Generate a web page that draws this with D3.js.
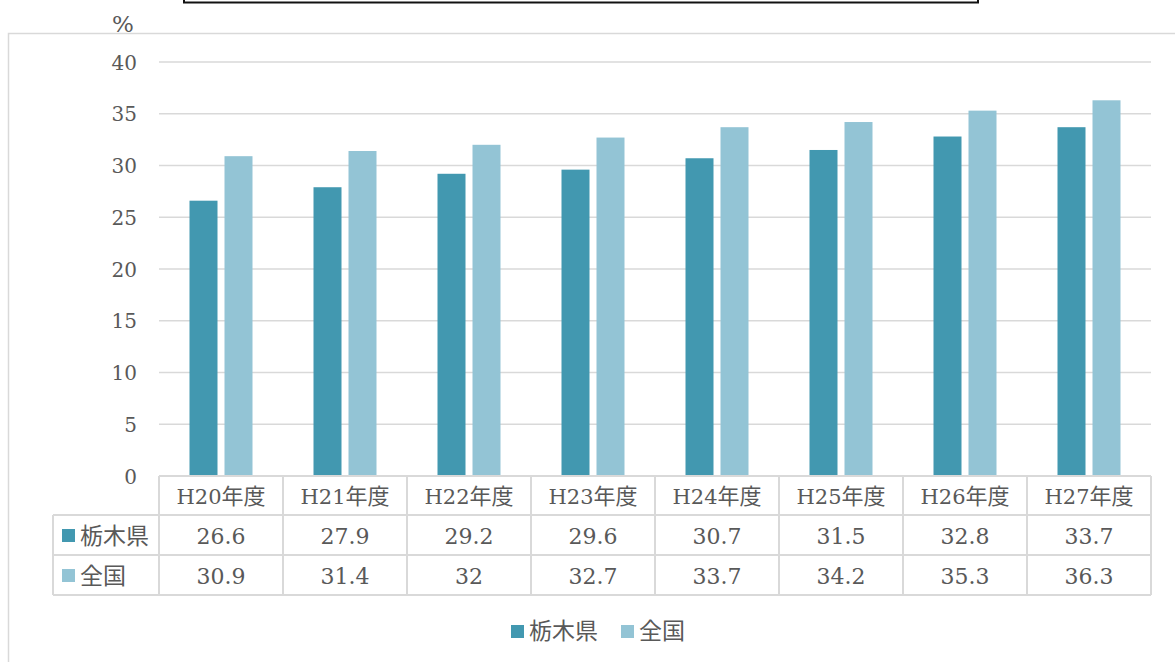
<!DOCTYPE html>
<html>
<head>
<meta charset="utf-8">
<script src="https://cdn.jsdelivr.net/npm/d3@7"></script>
<style>
  html, body { margin: 0; padding: 0; background: #fff; }
  svg { display: block; }
</style>
</head>
<body>
<svg id="chart" width="1175" height="662"></svg>
<script>
// Fiscal years (Heisei era)
const categories = ["H20年度", "H21年度", "H22年度", "H23年度", "H24年度", "H25年度", "H26年度", "H27年度"];
const seriesNames = ["栃木県", "全国"];
const tochigi = [26.6, 27.9, 29.2, 29.6, 30.7, 31.5, 32.8, 33.7];
const national = [30.9, 31.4, 32, 32.7, 33.7, 34.2, 35.3, 36.3];
const yTicks = [0, 5, 10, 15, 20, 25, 30, 35, 40];
const colors = ["#4298B0", "#93C4D5"];

const SERIF = "'DejaVu Serif', 'Noto Sans CJK JP', serif";
const GOTHIC = "'Noto Sans CJK JP', sans-serif";
const TEXT_COLOR = "#595959";

const series = [tochigi, national];
const svg = d3.select("#chart");

function styleText(sel, family, size) {
  return sel.style("font-family", family).style("fill", TEXT_COLOR)
    .style("font-size", (size || 20) + "px");
}

// outer chart frame
svg.append("rect")
  .attr("x", 8.5).attr("y", 33.5).attr("width", 1200).attr("height", 700)
  .attr("fill", "none").attr("stroke", "#d9d9d9").attr("stroke-width", 1.5);

// text box outline above the chart
svg.append("rect")
  .attr("x", 184).attr("y", -6).attr("width", 794).attr("height", 8.5)
  .attr("fill", "none").attr("stroke", "#111").attr("stroke-width", 2);

const plot = { left: 159, right: 1151, top: 62, bottom: 476 };

const x = d3.scaleBand().domain(categories).range([plot.left, plot.right]).padding(0);
const y = d3.scaleLinear().domain([0, 40]).range([plot.bottom, plot.top]);
const inner = d3.scaleBand().domain(d3.range(series.length))
  .range([0, 63]).paddingInner(0.2);

// horizontal gridlines
svg.append("g").selectAll("line").data(yTicks.filter(d => d > 0)).join("line")
  .attr("x1", plot.left).attr("x2", plot.right)
  .attr("y1", d => y(d)).attr("y2", d => y(d))
  .attr("stroke", "#d9d9d9").attr("stroke-width", 1.5);

// y axis labels
const yAxis = d3.axisLeft(y).tickValues(yTicks).tickSize(0).tickPadding(0);
const gy = svg.append("g").attr("transform", "translate(137,0)").call(yAxis);
gy.select(".domain").remove();
styleText(gy.selectAll("text"), SERIF, 20).attr("dy", "0.35em");

// unit label
styleText(svg.append("text"), SERIF, 23)
  .attr("x", 123).attr("y", 32).attr("text-anchor", "middle").text("%");

// bars
series.forEach((vals, si) => {
  svg.append("g").selectAll("rect").data(vals).join("rect")
    .attr("x", (d, i) => x(categories[i]) + x.bandwidth() / 2 - 31.5 + inner(si))
    .attr("width", inner.bandwidth())
    .attr("y", d => y(d))
    .attr("height", d => y(0) - y(d))
    .attr("fill", colors[si]);
});

// data table
const rowTop = [476, 515, 555, 595];
const tableLeft = 53;
const gridColor = "#d9d9d9";
const tg = svg.append("g");
tg.append("line").attr("x1", plot.left).attr("x2", plot.right)
  .attr("y1", rowTop[0]).attr("y2", rowTop[0])
  .attr("stroke", gridColor).attr("stroke-width", 2);
rowTop.slice(1).forEach(ry => {
  tg.append("line").attr("x1", tableLeft).attr("x2", plot.right)
    .attr("y1", ry).attr("y2", ry).attr("stroke", gridColor).attr("stroke-width", 2);
});
const vlines = categories.map(c => x(c)).concat([plot.right]);
vlines.forEach(vx => {
  tg.append("line").attr("x1", vx).attr("x2", vx)
    .attr("y1", rowTop[0]).attr("y2", rowTop[3])
    .attr("stroke", gridColor).attr("stroke-width", 2);
});
tg.append("line").attr("x1", tableLeft).attr("x2", tableLeft)
  .attr("y1", rowTop[1]).attr("y2", rowTop[3])
  .attr("stroke", gridColor).attr("stroke-width", 2);

// header row: fiscal years (Latin part serif, kanji in gothic)
const hdr = styleText(tg.selectAll("text.cat").data(categories).join("text"), SERIF, 21)
  .attr("class", "cat")
  .attr("x", d => x(d) + x.bandwidth() / 2)
  .attr("y", (rowTop[0] + rowTop[1]) / 2 + 1)
  .attr("text-anchor", "middle").attr("dy", "0.35em");
hdr.append("tspan").text(d => d.replace("年度", ""));
hdr.append("tspan").style("font-family", GOTHIC).style("font-size", "22px").text("年度");

// value rows
series.forEach((vals, si) => {
  const cy = (rowTop[si + 1] + rowTop[si + 2]) / 2 + 1;
  tg.append("rect").attr("x", 62).attr("y", cy - 7).attr("width", 13).attr("height", 13)
    .attr("fill", colors[si]);
  styleText(tg.append("text"), GOTHIC, 23).attr("x", 80).attr("y", cy)
    .attr("dy", "0.35em").text(seriesNames[si]);
  styleText(tg.append("g").selectAll("text").data(vals).join("text"), SERIF, 22)
    .attr("x", (d, i) => x(categories[i]) + x.bandwidth() / 2)
    .attr("y", cy).attr("dy", "0.35em")
    .attr("text-anchor", "middle")
    .text(d => d);
});

// legend
const legend = svg.append("g");
const legendItems = [{ x: 511, name: seriesNames[0], c: colors[0] }, { x: 621, name: seriesNames[1], c: colors[1] }];
legendItems.forEach(it => {
  legend.append("rect").attr("x", it.x).attr("y", 625).attr("width", 13).attr("height", 13).attr("fill", it.c);
  styleText(legend.append("text"), GOTHIC, 23).attr("x", it.x + 18).attr("y", 631)
    .attr("dy", "0.35em").text(it.name);
});
</script>
</body>
</html>
